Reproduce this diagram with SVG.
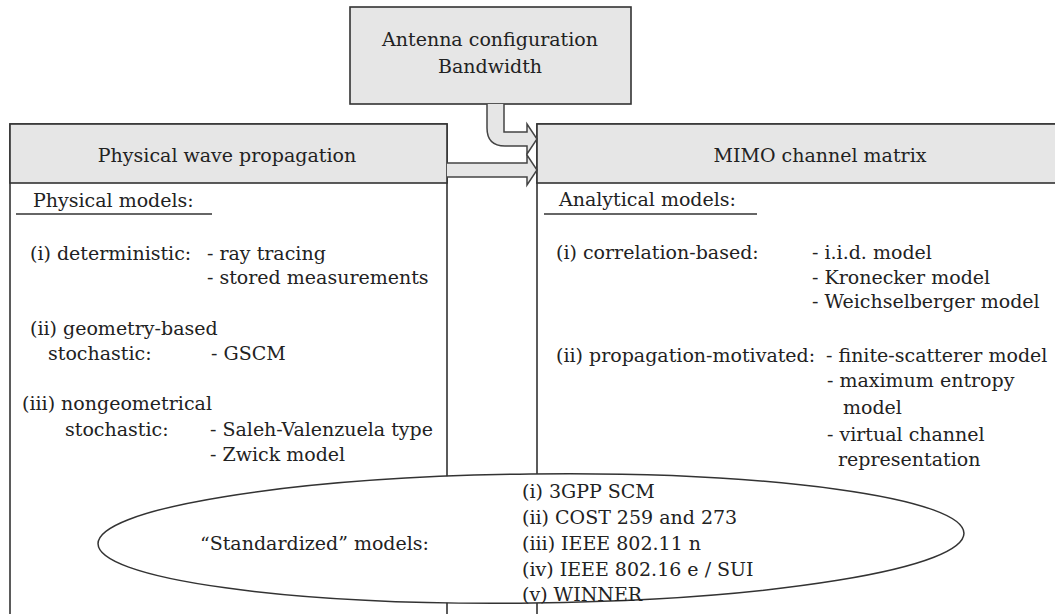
<svg xmlns="http://www.w3.org/2000/svg" width="1055" height="614" viewBox="0 0 1055 614">
<style>
text{font-family:"DejaVu Serif","Liberation Serif","Times New Roman",serif;font-size:19px;fill:#222}
.box{fill:#fff;stroke:#333;stroke-width:1.6}
.hdr{fill:#e6e6e6;stroke:#333;stroke-width:1.6}
.arr{fill:#e6e6e6;stroke:#444;stroke-width:1.5;stroke-linejoin:miter}
.ul{stroke:#333;stroke-width:1.5}
.mid{text-anchor:middle}
</style>
<rect width="1055" height="614" fill="#fff"/>
<g id="physical">
<rect class="box" x="10" y="124" width="437" height="600"/>
<rect class="hdr" x="10" y="124" width="437" height="59"/>
<text class="mid" x="227" y="162">Physical wave propagation</text>
<text x="33" y="207">Physical models:</text>
<line class="ul" x1="16" y1="214" x2="212" y2="214"/>
<text x="30" y="260">(i) deterministic:</text>
<text x="207" y="260">- ray tracing</text>
<text x="207" y="284">- stored measurements</text>
<text x="30" y="335">(ii) geometry-based</text>
<text x="48" y="360">stochastic:</text>
<text x="211" y="360">- GSCM</text>
<text x="22" y="410">(iii) nongeometrical</text>
<text x="65" y="436">stochastic:</text>
<text x="210" y="436">- Saleh-Valenzuela type</text>
<text x="210" y="461">- Zwick model</text>
</g>
<g id="mimo">
<rect class="box" x="537" y="124" width="600" height="600"/>
<rect class="hdr" x="537" y="124" width="600" height="59"/>
<text class="mid" x="820" y="162">MIMO channel matrix</text>
<text x="559" y="206">Analytical models:</text>
<line class="ul" x1="544" y1="214" x2="757" y2="214"/>
<text x="556" y="259">(i) correlation-based:</text>
<text x="812" y="259">- i.i.d. model</text>
<text x="812" y="284">- Kronecker model</text>
<text x="812" y="308">- Weichselberger model</text>
<text x="556" y="362">(ii) propagation-motivated:</text>
<text x="826" y="362">- finite-scatterer model</text>
<text x="827" y="387">- maximum entropy</text>
<text x="843" y="414">model</text>
<text x="827" y="441">- virtual channel</text>
<text x="838" y="466">representation</text>
</g>
<g id="antenna">
<rect class="hdr" x="350" y="7" width="281" height="97" stroke-width="2"/>
<text class="mid" x="490" y="46">Antenna configuration</text>
<text class="mid" x="490" y="73">Bandwidth</text>
</g>
<g id="connectors">
<path class="arr" d="M504,104 V132 H527 V124 L537,139 L527,154 V146 H505 Q487,146 487,128 V104"/>
<path class="arr" d="M447,163 H527 V155 L537,170 L527,185 V177 H447"/>
</g>
<g id="standardized">
<ellipse cx="531" cy="538.5" rx="433" ry="64.5" fill="#fff" stroke="#333" stroke-width="1.5" transform="rotate(-0.7 531 538.5)"/>
<text x="200" y="550">“Standardized” models:</text>
<text x="522" y="498">(i) 3GPP SCM</text>
<text x="522" y="524">(ii) COST 259 and 273</text>
<text x="522" y="550">(iii) IEEE 802.11 n</text>
<text x="522" y="576">(iv) IEEE 802.16 e / SUI</text>
<text x="522" y="601">(v) WINNER</text>
</g>
</svg>
